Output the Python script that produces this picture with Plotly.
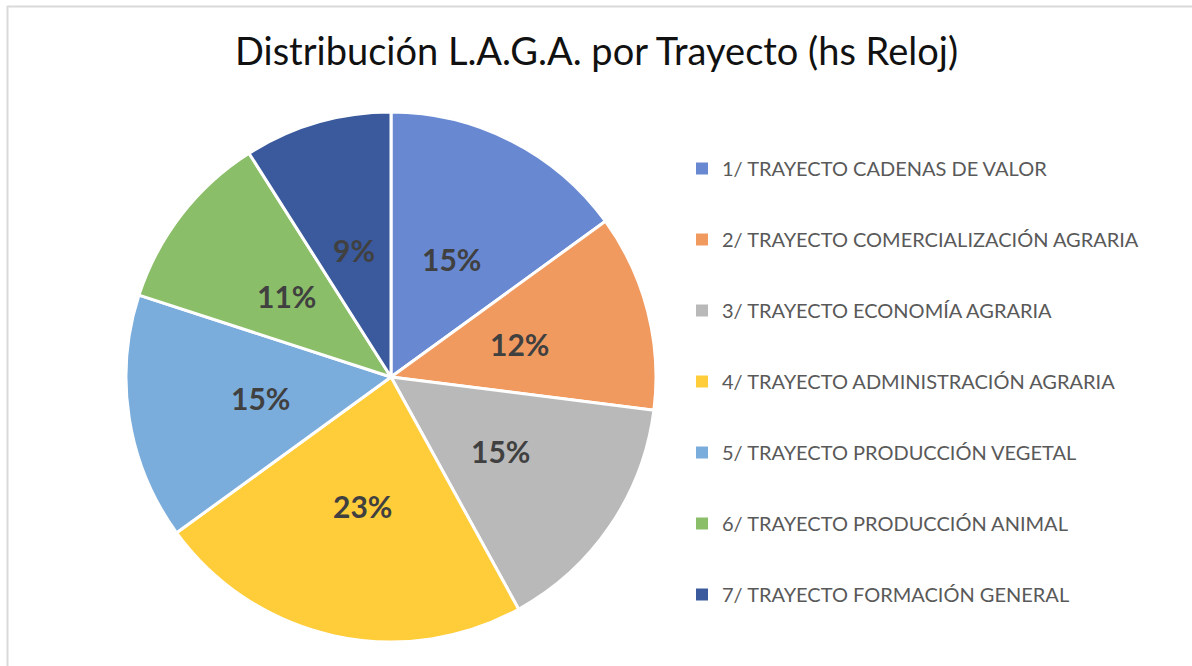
import numpy as np
import plotly.graph_objects as go

categories = [
    "1/ TRAYECTO CADENAS DE VALOR",
    "2/ TRAYECTO COMERCIALIZACIÓN AGRARIA",
    "3/ TRAYECTO ECONOMÍA AGRARIA",
    "4/ TRAYECTO ADMINISTRACIÓN AGRARIA",
    "5/ TRAYECTO PRODUCCIÓN VEGETAL",
    "6/ TRAYECTO PRODUCCIÓN ANIMAL",
    "7/ TRAYECTO FORMACIÓN GENERAL",
]
values = [15, 12, 15, 23, 15, 11, 9]
colors = ["#6889D2", "#F19A60", "#B9B9B9", "#FFCC3A", "#7BADDC", "#8BBE68", "#3A5A9D"]
title = "Distribución L.A.G.A. por Trayecto (hs Reloj)"

W, H = 1192, 666
cx, cy, R = 391, 377, 265

fig = go.Figure()
fig.add_trace(go.Pie(
    labels=categories, values=values, sort=False, direction="clockwise", rotation=0,
    marker=dict(colors=colors, line=dict(color="white", width=3)),
    textinfo="none", showlegend=False, hoverinfo="label+percent",
    domain=dict(x=[(cx - R) / W, (cx + R) / W], y=[1 - (cy + R) / H, 1 - (cy - R) / H]),
))

# data labels placed at half radius along each slice's mid-angle (derived from values)
vals = np.array(values, dtype=float)
total = vals.sum()
mid = 2 * np.pi * (np.cumsum(vals) - vals / 2) / total
r_lab = 0.5 * R
annotations = []
for v, a in zip(vals, mid):
    annotations.append(dict(
        text=f"{v / total:.0%}", x=(cx + r_lab * np.sin(a)) / W, y=1 - (cy - r_lab * np.cos(a)) / H,
        xref="paper", yref="paper", showarrow=False, xanchor="center", yanchor="middle",
        font=dict(family="Lato", size=30, color="#404040", weight="bold"),
    ))

for i, (c, col) in enumerate(zip(categories, colors)):
    fig.add_trace(go.Scatter(
        x=[None], y=[None], mode="markers", name=c, legendgroup=str(i),
        marker=dict(symbol="square", size=8, color=col),
    ))

annotations.append(dict(text=title, x=0.5, y=1 - 50 / H, xref="paper", yref="paper",
                        showarrow=False, xanchor="center", yanchor="middle",
                        font=dict(family="Lato", size=38, color="#111111")))

fig.update_layout(
    width=W, height=H, margin=dict(l=0, r=0, t=0, b=0),
    paper_bgcolor="white", plot_bgcolor="white",
    xaxis=dict(visible=False), yaxis=dict(visible=False),
    legend=dict(x=682 / W, y=1 - 149 / H, xanchor="left", yanchor="top",
                font=dict(family="Lato", size=20, color="#595959"),
                tracegroupgap=42, itemsizing="constant", bgcolor="rgba(0,0,0,0)"),
    annotations=annotations,
    shapes=[
        dict(type="line", xref="paper", yref="paper", x0=7 / W, x1=1, y0=1 - 6.5 / H, y1=1 - 6.5 / H,
             line=dict(color="#D9D9D9", width=2)),
        dict(type="line", xref="paper", yref="paper", x0=7.5 / W, x1=7.5 / W, y0=0, y1=1 - 6 / H,
             line=dict(color="#D9D9D9", width=2)),
    ],
)
fig.write_html("out.html")
